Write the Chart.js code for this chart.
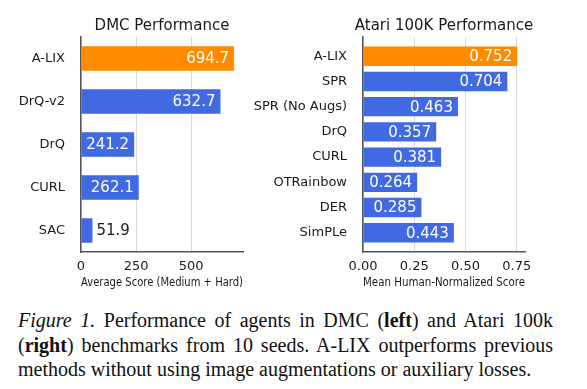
<!DOCTYPE html>
<html>
<head>
<meta charset="utf-8">
<script src="https://cdn.jsdelivr.net/npm/chart.js@4.4.0/dist/chart.umd.min.js"></script>
<style>
  html, body { margin: 0; padding: 0; background: #fff; }
  body { width: 587px; height: 389px; position: relative; overflow: hidden; }
  .panel { position: absolute; top: 0; height: 292px; }
  #dmcWrap { left: 0; width: 280px; }
  #atariWrap { left: 250px; width: 300px; }
  .cap {
    position: absolute; left: 18px; width: 535px;
    font-family: "Liberation Serif", "Times New Roman", serif;
    font-size: 20px; line-height: 24px; color: #111;
    white-space: nowrap;
  }
  .cap.just { text-align: justify; text-align-last: justify; }
</style>
</head>
<body>

<div class="panel" id="dmcWrap"><canvas id="dmcChart" width="280" height="292"></canvas></div>
<div class="panel" id="atariWrap"><canvas id="atariChart" width="300" height="292"></canvas></div>

<div class="cap just" style="top:308px"><i>Figure 1.</i> Performance of agents in DMC (<b>left</b>) and Atari 100k</div>
<div class="cap just" style="top:333px">(<b>right</b>) benchmarks from 10 seeds. A-LIX outperforms previous</div>
<div class="cap" style="top:357px">methods without using image augmentations or auxiliary losses.</div>

<script>
// ---- Data ----
const DMC_AGENTS = ["A-LIX", "DrQ-v2", "DrQ", "CURL", "SAC"];
const DMC_SCORES = [694.7, 632.7, 241.2, 262.1, 51.9];
const DMC_TICKS  = [0, 250, 500];

const ATARI_AGENTS = ["A-LIX", "SPR", "SPR (No Augs)", "DrQ", "CURL", "OTRainbow", "DER", "SimPLe"];
const ATARI_SCORES = [0.752, 0.704, 0.463, 0.357, 0.381, 0.264, 0.285, 0.443];
const ATARI_TICKS  = [0, 0.25, 0.5, 0.75];

const ORANGE = "#ff8c00";
const BLUE   = "#4169e1";
const FONT   = '"DejaVu Sans", Verdana, sans-serif';
const TEXT   = "#1a1a1a";

// highlight our method, rest in blue
const barColors = (names) => names.map(n => n === "A-LIX" ? ORANGE : BLUE);

// ---- Plugins ----
// panel title, centred over the plot area
const panelTitle = {
  id: "panelTitle",
  afterDraw(chart, args, opts) {
    const { ctx, chartArea } = chart;
    ctx.save();
    ctx.font = `15px ${FONT}`;
    ctx.fillStyle = TEXT;
    ctx.textAlign = "center";
    ctx.textBaseline = "middle";
    ctx.fillText(opts.text, (chartArea.left + chartArea.right) / 2, 26);
    ctx.restore();
  }
};

// value printed at the end of each bar (inside if it fits)
const valueLabels = {
  id: "valueLabels",
  afterDatasetsDraw(chart, args, opts) {
    const { ctx } = chart;
    const meta = chart.getDatasetMeta(0);
    ctx.save();
    ctx.font = `15px ${FONT}`;
    ctx.textBaseline = "middle";
    meta.data.forEach((bar, i) => {
      const txt = opts.texts[i];
      const w = ctx.measureText(txt).width;
      if (bar.x - bar.base > w + 6) {
        ctx.fillStyle = "#fff";
        ctx.textAlign = "right";
        ctx.fillText(txt, bar.x - 5, bar.y + 1);
      } else {
        ctx.fillStyle = TEXT;
        ctx.textAlign = "left";
        ctx.fillText(txt, bar.x + 4, bar.y + 1);
      }
    });
    ctx.restore();
  }
};

function valueAxis(max, ticks, fmt, title) {
  return {
    type: "linear",
    min: 0,
    max: max,
    bounds: "data",
    afterBuildTicks: s => { s.ticks = ticks.map(v => ({ value: v })); },
    ticks: { color: TEXT, font: { family: FONT, size: 13 }, padding: 7, callback: fmt },
    grid: { color: "#d9d9d9", lineWidth: 1, drawTicks: false },
    border: { color: "#555", width: 1.5 },
    title: { display: true, text: title, color: TEXT, font: { family: FONT, size: 13 }, padding: { top: 0, bottom: 2 } },
    afterFit: s => { s.height = 40; }
  };
}

// ---- DMC chart ----
new Chart(document.getElementById("dmcChart"), {
  type: "bar",
  data: {
    labels: DMC_AGENTS,
    datasets: [{
      data: DMC_SCORES,
      backgroundColor: barColors(DMC_AGENTS),
      categoryPercentage: 1,
      barPercentage: 0.57
    }]
  },
  options: {
    indexAxis: "y",
    responsive: false,
    animation: false,
    layout: { padding: { top: 37, right: 37, left: 0, bottom: 0 } },
    plugins: {
      legend: { display: false },
      tooltip: { enabled: false },
      panelTitle: { text: "DMC Performance" },
      valueLabels: { texts: DMC_SCORES.map(v => v.toFixed(1)) }
    },
    scales: {
      x: valueAxis(735, DMC_TICKS, v => String(v), "Average Score (Medium + Hard)"),
      y: {
        z: 1,
        ticks: { color: TEXT, font: { family: FONT, size: 13 }, padding: 8 },
        grid: { display: false },
        border: { color: "#555", width: 1.5 },
        afterFit: s => { s.width = 81; }
      }
    }
  },
  plugins: [panelTitle, valueLabels]
});

// ---- Atari chart ----
// index axis kept numeric so the outer padding can be set like the original
new Chart(document.getElementById("atariChart"), {
  type: "bar",
  data: {
    datasets: [{
      data: ATARI_SCORES.map((v, i) => ({ x: v, y: i })),
      backgroundColor: barColors(ATARI_AGENTS),
      categoryPercentage: 1,
      barPercentage: 0.77
    }]
  },
  options: {
    indexAxis: "y",
    responsive: false,
    animation: false,
    layout: { padding: { top: 37, right: 25, left: 0, bottom: 0 } },
    plugins: {
      legend: { display: false },
      tooltip: { enabled: false },
      panelTitle: { text: "Atari 100K Performance" },
      valueLabels: { texts: ATARI_SCORES.map(v => v.toFixed(3)) }
    },
    scales: {
      x: valueAxis(0.79, ATARI_TICKS, v => v.toFixed(2), "Mean Human-Normalized Score"),
      y: {
        type: "linear",
        reverse: true,
        offset: false,
        bounds: "data",
        min: -0.76,
        max: ATARI_AGENTS.length - 1 + 0.76,
        z: 1,
        afterBuildTicks: s => { s.ticks = ATARI_AGENTS.map((_, i) => ({ value: i })); },
        ticks: { autoSkip: false, color: TEXT, font: { family: FONT, size: 13 }, padding: 8,
                 callback: v => ATARI_AGENTS[v] },
        grid: { display: false },
        border: { color: "#555", width: 1.5 },
        afterFit: s => { s.width = 113; }
      }
    }
  },
  plugins: [panelTitle, valueLabels]
});
</script>
</body>
</html>
